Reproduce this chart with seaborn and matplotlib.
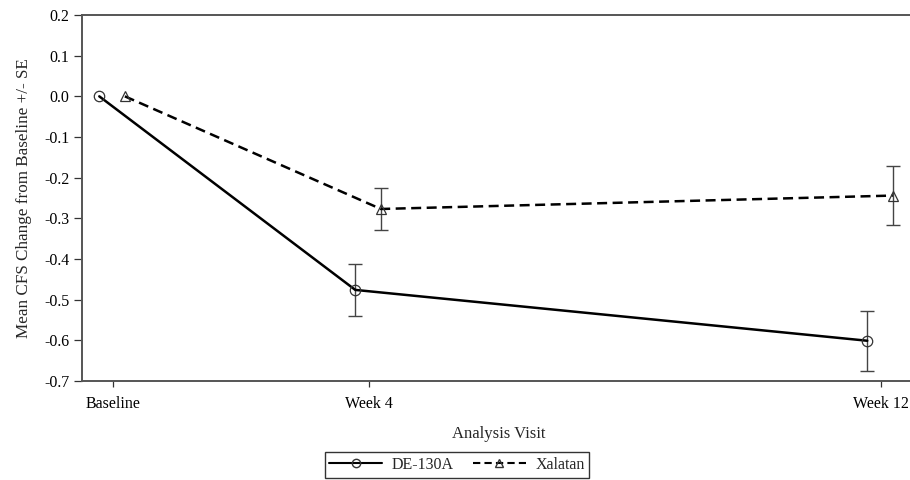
import matplotlib
matplotlib.use("Agg")
import matplotlib.pyplot as plt
import seaborn as sns
import pandas as pd
import numpy as np
from matplotlib.lines import Line2D

# Data
visits = ["Baseline", "Week 4", "Week 12"]
visit_weeks = [0, 4, 12]
de130a_mean = [0.0, -0.476, -0.601]
de130a_se = [0.0, 0.064, 0.074]
xalatan_mean = [0.0, -0.277, -0.244]
xalatan_se = [0.0, 0.052, 0.072]
groups = ["DE-130A", "Xalatan"]
y_ticks = [0.2, 0.1, 0.0, -0.1, -0.2, -0.3, -0.4, -0.5, -0.6, -0.7]

offsets = {"DE-130A": -0.21, "Xalatan": 0.19}

rows = []
for g, means, ses in [("DE-130A", de130a_mean, de130a_se), ("Xalatan", xalatan_mean, xalatan_se)]:
    for v, w, m, s in zip(visits, visit_weeks, means, ses):
        rows.append({"group": g, "visit": v, "x": w + offsets[g], "mean": m, "se": s})
df = pd.DataFrame(rows)

sns.set_style("ticks")
plt.rcParams["font.family"] = ["Liberation Serif", "DejaVu Serif"]

fig = plt.figure(figsize=(9.1, 4.8), dpi=100)
right_px = 915
ax = fig.add_axes([82 / 910, 1 - 381 / 480, (right_px - 82) / 910, (381 - 15) / 480])

sns.lineplot(data=df, x="x", y="mean", hue="group", style="group",
             palette={"DE-130A": "black", "Xalatan": "black"},
             dashes={"DE-130A": "", "Xalatan": (4, 2.2)},
             markers={"DE-130A": "o", "Xalatan": "^"},
             markersize=7.5, markerfacecolor="none", markeredgecolor="#333333",
             markeredgewidth=0.9, linewidth=1.8, ax=ax, legend=False, sort=True)

for g in groups:
    sub = df[(df.group == g) & (df.se > 0)]
    ax.errorbar(sub["x"], sub["mean"], yerr=sub["se"], fmt="none",
                ecolor="#444444", elinewidth=1.0, capsize=5, capthick=1.0, zorder=1)

ax.set_xlim(-0.48, -0.48 + (right_px - 82) / 64)
ax.set_ylim(-0.7, 0.2)
ax.set_xticks(visit_weeks)
ax.set_xticklabels(visits)
ax.set_yticks(y_ticks)
ax.set_yticklabels([f"{t:.1f}" for t in y_ticks])
ax.tick_params(axis="both", labelsize=11.5, colors="#333333", labelcolor="black",
               direction="out", width=0.9)
ax.tick_params(axis="y", length=6, pad=3)
ax.tick_params(axis="x", length=4, pad=7)
for s in ["left", "bottom", "top"]:
    ax.spines[s].set_visible(True)
    ax.spines[s].set_color("#555555")
    ax.spines[s].set_linewidth(1.4)
ax.spines["right"].set_visible(False)

ax.set_xlabel("Analysis Visit", fontsize=12, labelpad=10)
ax.set_ylabel("Mean CFS Change from Baseline +/- SE", fontsize=12.3, labelpad=9)

handles = [
    Line2D([], [], color="black", linewidth=1.5, marker="o", markersize=6,
           markerfacecolor="none", markeredgecolor="#333333"),
    Line2D([], [], color="black", linewidth=1.5, linestyle=(0, (3.5, 2)), marker="^",
           markersize=6, markerfacecolor="none", markeredgecolor="#333333"),
]
leg = fig.legend(handles, groups, loc="center", bbox_to_anchor=(457 / 910, 1 - 465 / 480),
                 ncol=2, frameon=True, fancybox=False, edgecolor="black",
                 fontsize=11.5, handlelength=3.3, columnspacing=1.2, handletextpad=0.6,
                 borderpad=0.3)
leg.get_frame().set_linewidth(1.0)

fig.savefig("out.png", dpi=100)
